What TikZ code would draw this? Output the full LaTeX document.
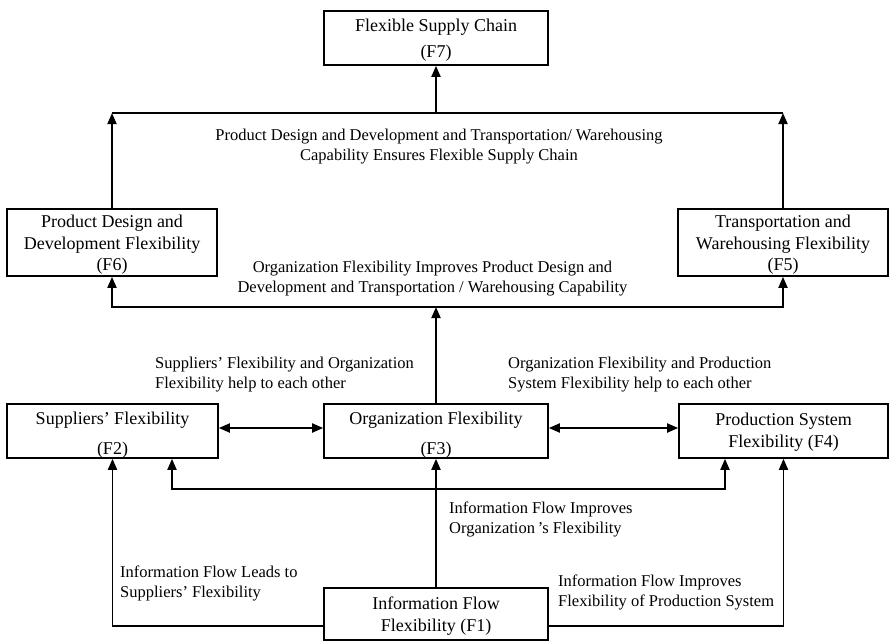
\documentclass[tikz,border=0pt]{standalone}
\usepackage{fontspec}
\setmainfont{Liberation Serif}
\usetikzlibrary{arrows.meta}
\newcommand{\boxfont}{\fontsize{18}{21.5}\selectfont}
\newcommand{\labfont}{\fontsize{16.5}{20}\selectfont}
\newcommand{\boxtxt}[2]{\raisebox{-#1}[\height][\depth]{\begin{tabular}{@{}c@{}}#2\end{tabular}}}
\tikzset{
  box/.style={draw, line width=1.6pt, inner sep=0pt, font=\boxfont},
  lab/.style={inner sep=0pt, font=\labfont},
  conn/.style={line width=1.8pt},
  arr/.style={conn, -{Triangle[width=9pt,length=11pt]}},
  dbl/.style={conn, {Triangle[width=9pt,length=11pt]}-{Triangle[width=9pt,length=11pt]}},
}
\begin{document}
\begin{tikzpicture}[x=1pt,y=-1pt]
\useasboundingbox (0,0) rectangle (889,641);
% boxes
\node[box, minimum width=224pt, minimum height=54pt] (F7) at (436,38) {\boxtxt{2pt}{Flexible Supply Chain\\[4pt](F7)}};
\node[box, minimum width=210pt, minimum height=67pt] (F6) at (112,242.5) {\boxtxt{2.5pt}{Product Design and\\Development Flexibility\\(F6)}};
\node[box, minimum width=210pt, minimum height=67pt] (F5) at (783,242.5) {\boxtxt{2.5pt}{Transportation and\\Warehousing Flexibility\\(F5)}};
\node[box, minimum width=211pt, minimum height=54pt] (F2) at (112.5,431) {\boxtxt{4pt}{Suppliers’ Flexibility\\[8pt](F2)}};
\node[box, minimum width=224pt, minimum height=54pt] (F3) at (436,431) {\boxtxt{4pt}{Organization Flexibility\\[8pt](F3)}};
\node[box, minimum width=209pt, minimum height=54pt] (F4) at (783.5,431) {\boxtxt{1pt}{Production System\\Flexibility (F4)}};
\node[box, minimum width=224pt, minimum height=52pt] (F1) at (436,614) {\boxtxt{2pt}{Information Flow\\Flexibility (F1)}};
% helper coordinates
\coordinate (yT) at (0,113);
\coordinate (yM) at (0,307);
\coordinate (yH) at (0,428);
\coordinate (yB) at (0,489);
\coordinate (yF) at (0,626);
\coordinate (xL2) at (172,0);
\coordinate (xR2) at (725,0);
% top connectors
\draw[conn] (F6.north |- yT) -- (F5.north |- yT);
\draw[arr] (F6.north) -- (F6.north |- yT);
\draw[arr] (F5.north) -- (F5.north |- yT);
\draw[arr] (F7.south |- yT) -- (F7.south);
% middle connectors
\draw[dbl] (F6.south) |- (F5.south |- yM) -- (F5.south);
\draw[arr] (F3.north) -- (F3.north |- yM);
\draw[dbl] (F2.east |- yH) -- (F3.west |- yH);
\draw[dbl] (F3.east |- yH) -- (F4.west |- yH);
% lower connectors
\draw[dbl] (F2.south -| xL2) |- (yB -| xR2) -- (F4.south -| xR2);
\draw[arr] (F1.north) -- (F3.south);
\draw[arr] (F1.west |- yF) -| (F2.south);
\draw[arr] (F1.east |- yF) -| (F4.south);
% labels
\node[lab, align=center] (Ltop) at (439,146.5) {Product Design and Development and Transportation/ Warehousing\\Capability Ensures Flexible Supply Chain};
\node[lab, align=center] (Lmid) at (432.5,279) {Organization Flexibility Improves Product Design and\\Development and Transportation / Warehousing Capability};
\node[lab, align=left, anchor=west] (Lsup) at (155,375) {Suppliers’ Flexibility and Organization\\Flexibility help to each other};
\node[lab, align=left, anchor=west] (Lprod) at (508,375) {Organization Flexibility and Production\\System Flexibility help to each other};
\node[lab, align=left, anchor=west] (Lorg) at (449,519) {Information Flow Improves\\Organization\,’s Flexibility};
\node[lab, align=left, anchor=west] (Linfs) at (120,583) {Information Flow Leads to\\Suppliers’ Flexibility};
\node[lab, align=left, anchor=west] (Linfp) at (558,592) {Information Flow Improves\\Flexibility of Production System};
\end{tikzpicture}
\end{document}
